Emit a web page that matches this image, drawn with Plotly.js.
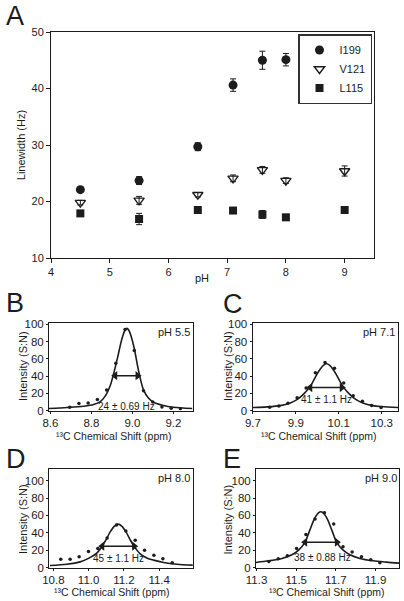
<!DOCTYPE html>
<html>
<head>
<meta charset="utf-8">
<script src="https://cdn.plot.ly/plotly-3.0.1.min.js"></script>
<style>html,body{margin:0;padding:0;background:#fff}#chart{width:404px;height:601px}</style>
</head>
<body>
<div id="chart"></div>
<script>
// ---------- Panel A data ----------
const phA = [4.5, 5.5, 6.5, 7.1, 7.6, 8.0, 9.0];
const i199 = [22.1, 23.7, 29.7, 40.6, 45.0, 45.1, 38.3];
const i199Err = [0.3, 0.7, 0.7, 1.1, 1.6, 1.1, 0.8];
const v121 = [19.8, 20.2, 21.2, 24.1, 25.6, 23.7, 25.4];
const v121Err = [0.4, 0.7, 0.4, 0.6, 0.6, 0.5, 0.9];
const l115 = [17.9, 16.9, 18.5, 18.4, 17.7, 17.2, 18.5];
const l115Err = [0.3, 1.0, 0.3, 0.3, 0.7, 0.3, 0.3];
const seriesNames = ['I199', 'V121', 'L115'];

// ---------- Panel B (pH 5.5) ----------
const bPtsX = [8.694, 8.739, 8.784, 8.829, 8.874, 8.919, 8.964, 9.009, 9.054, 9.099, 9.144, 9.189, 9.234];
const bPtsY = [3.8, 8.1, 8.8, 12.7, 23.8, 55, 94, 69.6, 23, 10, 4.2, 2.7, 1.9];
const bFitX = [8.593, 8.681, 8.762, 8.811, 8.843, 8.868, 8.892, 8.916, 8.930, 8.941, 8.952, 8.963, 8.973, 8.983, 8.994, 9.009, 9.030, 9.054, 9.078, 9.103, 9.151, 9.200, 9.292];
const bFitY = [2.3, 3.5, 5.0, 7.0, 10.4, 17, 29, 50, 64, 76, 86, 93, 95.4, 93, 86, 72, 46, 24, 14.6, 9.6, 5.8, 3.8, 2.3];

// ---------- Panel C (pH 7.1) ----------
const cPtsX = [9.778, 9.821, 9.863, 9.906, 9.948, 9.991, 10.036, 10.080, 10.123, 10.167, 10.210, 10.253, 10.297];
const cPtsY = [3.8, 5.3, 8.4, 14.9, 26, 44, 55.7, 49.2, 32, 17, 10.7, 5.7, 3.4];
const cFitX = [9.700, 9.765, 9.827, 9.874, 9.905, 9.936, 9.967, 9.983, 9.998, 10.013, 10.028, 10.043, 10.058, 10.073, 10.088, 10.103, 10.119, 10.150, 10.181, 10.212, 10.259, 10.300, 10.376];
const cFitY = [3.4, 4.2, 5.7, 8.8, 12.6, 19, 28, 35, 42, 48, 52.5, 54.3, 52.5, 48, 42, 35, 28, 19, 12.6, 8.8, 5.7, 4.6, 3.4];

// ---------- Panel D (pH 8.0) ----------
const dPtsX = [10.842, 10.895, 10.946, 10.999, 11.052, 11.105, 11.158, 11.211, 11.264, 11.317, 11.370, 11.421, 11.474];
const dPtsY = [9.6, 9.6, 12.3, 18.5, 22, 34, 49, 42, 31.5, 20, 14.2, 10, 5.4];
const dFitX = [10.781, 10.876, 10.952, 10.999, 11.046, 11.077, 11.100, 11.122, 11.145, 11.167, 11.189, 11.212, 11.234, 11.257, 11.292, 11.330, 11.368, 11.425, 11.501, 11.592];
const dFitY = [2.3, 3.8, 6.5, 10.5, 16.5, 24.6, 32.5, 41, 47.5, 50, 47.5, 41, 32.5, 24.6, 15.8, 11, 8.5, 5.8, 3.8, 2.7];

// ---------- Panel E (pH 9.0) ----------
const ePtsX = [11.362, 11.409, 11.455, 11.502, 11.549, 11.595, 11.642, 11.689, 11.736, 11.782, 11.829, 11.876, 11.922];
const ePtsY = [7, 10, 13.5, 22, 38, 56, 63, 50, 24, 18, 12.3, 8.8, 5.4];
const eFitX = [11.297, 11.361, 11.428, 11.478, 11.512, 11.545, 11.561, 11.576, 11.588, 11.600, 11.612, 11.624, 11.636, 11.648, 11.660, 11.672, 11.687, 11.703, 11.737, 11.771, 11.821, 11.888, 11.955, 12.019];
const eFitY = [5.8, 7.7, 10.4, 14.6, 20, 29.2, 38.5, 47.6, 54.2, 59.5, 63.0, 64.2, 63.0, 59.5, 54.2, 47.6, 38.5, 29.2, 20, 14.6, 10.4, 7.7, 6.2, 5.0];

// linewidth labels and half-height arrows
const widthLabels = ['24 ± 0.69 Hz', '41 ± 1.1 Hz', '45 ± 1.1 Hz', '38 ± 0.88 Hz'];
const phLabels = ['pH 5.5', 'pH 7.1', 'pH 8.0', 'pH 9.0'];
const fwhmLeft = [8.916, 9.967, 11.077, 11.545];
const fwhmRight = [9.025, 10.114, 11.258, 11.705];
const arrowLevel = [40.4, 26.7, 24.6, 29.2];

// ---------- layout helpers ----------
const W = 404, H = 601;
const FONT = 'Arial, "Liberation Sans", sans-serif';
const INK = '#1c1c1c';
const dx = (a, b) => [a / W, b / W];
const dy = (top, bottom) => [1 - bottom / H, 1 - top / H];

function axisBase(extra) {
  return Object.assign({
    showline: true, mirror: true, linecolor: INK, linewidth: 1,
    ticks: 'outside', ticklen: 2, tickwidth: 1, tickcolor: INK,
    showgrid: false, zeroline: false, fixedrange: true,
    tickfont: {family: FONT, size: 11.5, color: INK}
  }, extra);
}

const traces = [];
traces.push({x: phA, y: i199, name: seriesNames[0], type: 'scatter', mode: 'markers', xaxis: 'x', yaxis: 'y',
  marker: {symbol: 'circle', size: 9, color: INK},
  error_y: {type: 'data', array: i199Err, visible: true, color: INK, thickness: 1, width: 3}});
traces.push({x: phA, y: v121, name: seriesNames[1], type: 'scatter', mode: 'markers', xaxis: 'x', yaxis: 'y',
  marker: {symbol: 'triangle-down-open', size: 9, color: INK, line: {width: 1.4, color: INK}},
  error_y: {type: 'data', array: v121Err, visible: true, color: INK, thickness: 1, width: 3}});
traces.push({x: phA, y: l115, name: seriesNames[2], type: 'scatter', mode: 'markers', xaxis: 'x', yaxis: 'y',
  marker: {symbol: 'square', size: 8, color: INK},
  error_y: {type: 'data', array: l115Err, visible: true, color: INK, thickness: 1, width: 3}});

const spectra = [
  [bPtsX, bPtsY, bFitX, bFitY],
  [cPtsX, cPtsY, cFitX, cFitY],
  [dPtsX, dPtsY, dFitX, dFitY],
  [ePtsX, ePtsY, eFitX, eFitY]
];
spectra.forEach((s, i) => {
  const n = i + 2;
  traces.push({x: s[2], y: s[3], type: 'scatter', mode: 'lines', showlegend: false, hoverinfo: 'skip',
    xaxis: 'x' + n, yaxis: 'y' + n, line: {color: INK, width: 1.6, shape: 'spline', smoothing: 0.8}});
  traces.push({x: s[0], y: s[1], type: 'scatter', mode: 'markers', showlegend: false,
    xaxis: 'x' + n, yaxis: 'y' + n, marker: {size: 3.5, color: INK}});
  // double-headed half-height arrow: shaft plus two heads
  traces.push({x: [fwhmLeft[i], fwhmRight[i]], y: [arrowLevel[i], arrowLevel[i]], type: 'scatter',
    mode: 'lines', showlegend: false, hoverinfo: 'skip', xaxis: 'x' + n, yaxis: 'y' + n,
    line: {color: INK, width: 1.5}});
  traces.push({x: [fwhmLeft[i]], y: [arrowLevel[i]], type: 'scatter', mode: 'markers', showlegend: false,
    hoverinfo: 'skip', xaxis: 'x' + n, yaxis: 'y' + n,
    marker: {symbol: 'triangle-left', size: 8, color: INK, line: {width: 0}}});
  traces.push({x: [fwhmRight[i]], y: [arrowLevel[i]], type: 'scatter', mode: 'markers', showlegend: false,
    hoverinfo: 'skip', xaxis: 'x' + n, yaxis: 'y' + n,
    marker: {symbol: 'triangle-right', size: 8, color: INK, line: {width: 0}}});
});

const layout = {
  width: W, height: H,
  margin: {l: 0, r: 0, t: 0, b: 0},
  paper_bgcolor: '#fff', plot_bgcolor: '#fff',
  font: {family: FONT, color: INK, size: 11},
  showlegend: true,
  legend: {x: 372 / W, xanchor: 'right', y: 1 - 34 / H, yanchor: 'top',
    bordercolor: '#333', borderwidth: 1.5, bgcolor: '#fff',
    font: {family: FONT, size: 11, color: INK}, itemwidth: 30},
  xaxis: axisBase({domain: dx(51, 374), range: [4, 9.5], dtick: 1, tick0: 4, anchor: 'y', ticklen: 4, tickfont: {family: FONT, size: 11, color: INK}}),
  yaxis: axisBase({domain: dy(32, 258), range: [10, 50], dtick: 10, tick0: 10, anchor: 'x', ticklen: 4, tickfont: {family: FONT, size: 11, color: INK}}),
  xaxis2: axisBase({domain: dx(49, 192.7), range: [8.593, 9.294], dtick: 0.2, tick0: 8.6, tickformat: '.1f', anchor: 'y2'}),
  yaxis2: axisBase({domain: dy(322.7, 410.5), range: [0, 102], dtick: 20, anchor: 'x2'}),
  xaxis3: axisBase({domain: dx(252.5, 398), range: [9.698, 10.376], dtick: 0.2, tick0: 9.7, tickformat: '.1f', anchor: 'y3'}),
  yaxis3: axisBase({domain: dy(322.7, 410.5), range: [0, 102], dtick: 20, anchor: 'x3'}),
  xaxis4: axisBase({domain: dx(49.3, 192.7), range: [10.777, 11.59], dtick: 0.2, tick0: 10.8, tickformat: '.1f', anchor: 'y4'}),
  yaxis4: axisBase({domain: dy(469, 567.5), range: [0, 113.5], dtick: 20, anchor: 'x4'}),
  xaxis5: axisBase({domain: dx(256, 399.3), range: [11.297, 12.02], dtick: 0.2, tick0: 11.3, tickformat: '.1f', anchor: 'y5'}),
  yaxis5: axisBase({domain: dy(469, 567.5), range: [0, 113.5], dtick: 20, anchor: 'x5'}),
  annotations: []
};

const ann = layout.annotations;
function paperText(text, px, py, size, opts) {
  ann.push(Object.assign({text: text, xref: 'paper', yref: 'paper', x: px / W, y: 1 - py / H,
    xanchor: 'center', yanchor: 'middle', showarrow: false,
    font: {family: FONT, size: size, color: INK}}, opts || {}));
}
// panel letters
paperText('A', 4, 16.5, 27, {xanchor: 'left'});
paperText('B', 4, 303, 27, {xanchor: 'left'});
paperText('C', 221, 304, 27, {xanchor: 'left'});
paperText('D', 4, 459, 27, {xanchor: 'left'});
paperText('E', 221, 459, 27, {xanchor: 'left'});
// axis titles
paperText('Linewidth (Hz)', 20.7, 145.5, 11, {textangle: -90});
paperText('pH', 202, 277.5, 11);
const yTitlePos = [[23, 366], [228, 366], [23, 519], [227.5, 519]];
const xTitlePos = [[114.5, 435.5], [318.7, 435.5], [111.7, 592], [327.3, 592]];
const labelPos = [[8.97, 5], [10.041, 12.6], [11.169, 10.4], [11.633, 11.2]];
for (let i = 0; i < 4; i++) {
  paperText('Intensity (S:N)', yTitlePos[i][0], yTitlePos[i][1], 11, {textangle: -90});
  paperText('¹³C Chemical Shift (ppm)', xTitlePos[i][0], xTitlePos[i][1], 10.5);
  const n = i + 2;
  ann.push({text: phLabels[i], xref: 'x' + n + ' domain', yref: 'y' + n + ' domain', x: 0.995, y: 0.985,
    xanchor: 'right', yanchor: 'top', showarrow: false, font: {family: FONT, size: 11, color: INK}});
  ann.push({text: widthLabels[i], xref: 'x' + n, yref: 'y' + n, x: labelPos[i][0], y: labelPos[i][1],
    xanchor: 'center', yanchor: 'middle', showarrow: false, font: {family: FONT, size: 10, color: INK}});
}

Plotly.newPlot('chart', traces, layout, {displayModeBar: false, staticPlot: true});
</script>
</body>
</html>
